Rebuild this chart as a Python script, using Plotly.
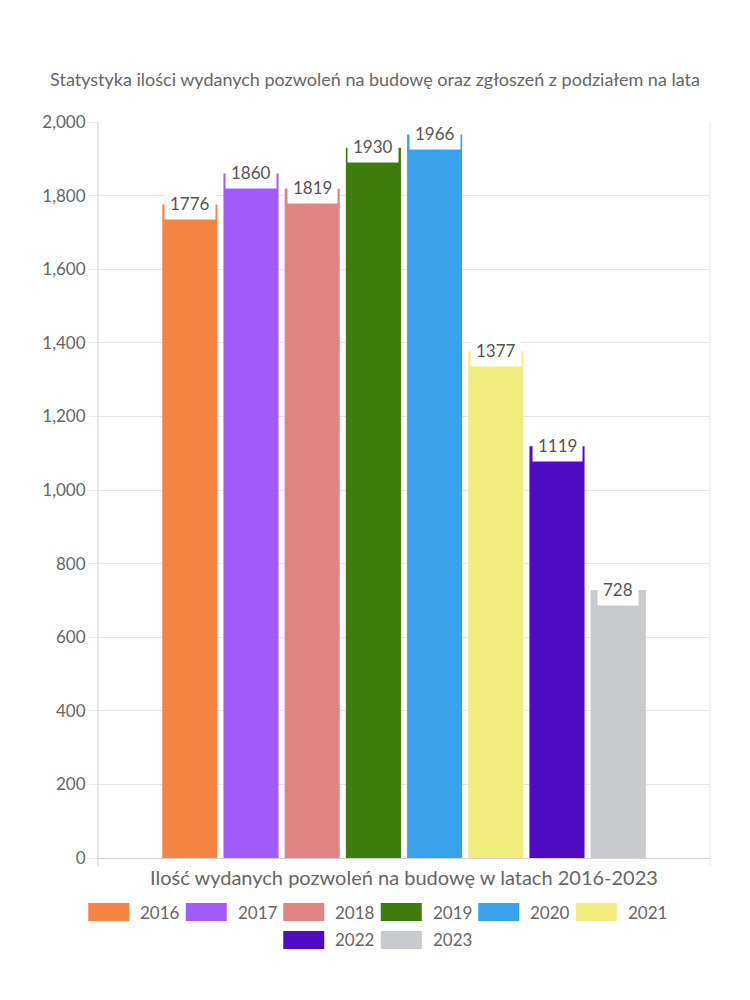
import plotly.graph_objects as go

title = "Statystyka ilości wydanych pozwoleń na budowę oraz zgłoszeń z podziałem na lata"
category = "Ilość wydanych pozwoleń na budowę w latach 2016-2023"
years = ["2016", "2017", "2018", "2019", "2020", "2021", "2022", "2023"]
values = [1776, 1860, 1819, 1930, 1966, 1377, 1119, 728]
colors = ["#F58442", "#A25AFD", "#E08484", "#3D7C0C", "#38A3EA", "#F0EC7D", "#500CC3", "#C9CACE"]

FONT = "Lato"
TXT = "#666666"

# plot area in screen pixels (page body has an 8px margin)
PX0, PX1, PY0, PY1 = 98, 710, 122, 858


def px(x):
    return (x - PX0) / (PX1 - PX0)


def py(y):
    return (PY1 - y) / (PY1 - PY0)


fig = go.Figure()
n = len(years)
bargap = 0.2
slot = (1 - bargap) / n
for i, (yr, v, c) in enumerate(zip(years, values, colors)):
    fig.add_trace(go.Bar(x=[category], y=[v], name=yr, marker=dict(color=c, line=dict(width=0)),
                         showlegend=False, hoverinfo="y+name"))
    xc = -(1 - bargap) / 2 + slot * (i + 0.5)
    fig.add_annotation(x=xc, y=v, xref="x", yref="y", text=str(v), showarrow=False,
                       font=dict(family=FONT, size=17, color="#555555"),
                       bgcolor="white", borderpad=5, yanchor="middle", xanchor="center",
                       yshift=1)

# manual legend (wide colour boxes as in reference)
per_row = 6
step = 97.5
box_w, box_h = 41, 18
center = 376
for i, (yr, c) in enumerate(zip(years, colors)):
    row = i // per_row
    cnt = min(per_row, n - row * per_row)
    col = i - row * per_row
    x0 = center - (cnt * step - 9.5) / 2 + col * step
    yc = 912 + row * 28
    fig.add_shape(type="rect", xref="paper", yref="paper",
                  x0=px(x0), x1=px(x0 + box_w), y0=py(yc + box_h / 2), y1=py(yc - box_h / 2),
                  fillcolor=c, line=dict(width=0))
    fig.add_annotation(xref="paper", yref="paper", x=px(x0 + box_w + 9), y=py(yc), text=yr,
                       showarrow=False, xanchor="left", yanchor="middle",
                       font=dict(family=FONT, size=17, color=TXT))

# frame lines
fig.add_shape(type="line", xref="paper", yref="paper", x0=1, x1=1, y0=py(866), y1=1,
              line=dict(color="#e6e6e6", width=1))
fig.add_shape(type="line", xref="paper", yref="paper", x0=0, x1=0, y0=py(866), y1=1,
              line=dict(color="#d0d0d0", width=1))

fig.update_layout(
    width=750, height=1000,
    paper_bgcolor="white", plot_bgcolor="white",
    margin=dict(l=PX0 - 8, r=750 - (PX1 - 8), t=PY0 - 8, b=1000 - (PY1 - 8)),
    barmode="group", bargap=bargap, bargroupgap=0.1,
    title=dict(text=title, x=(375 - 8) / 750, xanchor="center", y=1 - (80 - 8) / 1000,
               yanchor="middle", font=dict(family=FONT, size=18, color=TXT)),
    font=dict(family=FONT, color=TXT),
    xaxis=dict(showgrid=False, showline=True, linecolor="#d0d0d0", ticks="",
               tickfont=dict(family=FONT, size=20, color=TXT), ticklabelstandoff=2),
    yaxis=dict(range=[0, 2000], dtick=200, tickformat=",", showgrid=True, gridcolor="#e6e6e6",
               zeroline=False, showline=False, ticks="outside", ticklen=8, tickcolor="#e6e6e6",
               tickfont=dict(family=FONT, size=17, color=TXT)),
)

fig.write_html("out.html")
